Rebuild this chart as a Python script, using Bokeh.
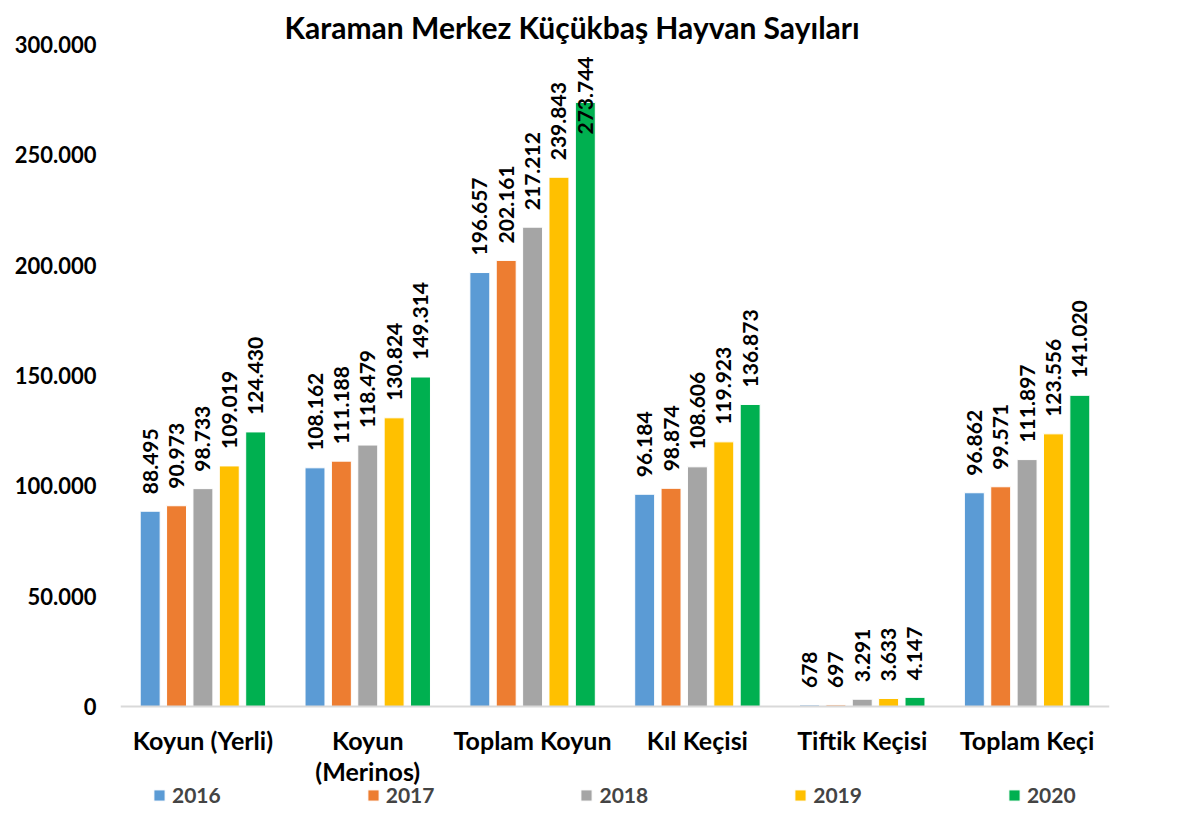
from bokeh.plotting import figure
from bokeh.models import ColumnDataSource, FactorRange, FixedTicker, Legend, LegendItem
from bokeh.transform import dodge
from bokeh.core.properties import value
from bokeh.embed import file_html
from bokeh.resources import INLINE
import math

TITLE = "Karaman Merkez Küçükbaş  Hayvan Sayıları"
CATEGORIES = ["Koyun (Yerli)", "Koyun\n(Merinos)", "Toplam Koyun", "Kıl Keçisi", "Tiftik Keçisi", "Toplam Keçi"]
YEARS = ["2016", "2017", "2018", "2019", "2020"]
V2016 = [88495, 108162, 196657, 96184, 678, 96862]
V2017 = [90973, 111188, 202161, 98874, 697, 99571]
V2018 = [98733, 118479, 217212, 108606, 3291, 111897]
V2019 = [109019, 130824, 239843, 119923, 3633, 123556]
V2020 = [124430, 149314, 273744, 136873, 4147, 141020]
SERIES = [V2016, V2017, V2018, V2019, V2020]
COLORS = ["#5B9BD5", "#ED7D31", "#A5A5A5", "#FFC000", "#00B050"]
Y_TICKS = [0, 50000, 100000, 150000, 200000, 250000, 300000]
Y_TICK_LABELS = ["0", "50.000", "100.000", "150.000", "200.000", "250.000", "300.000"]
LABEL_CAP = 251500  # Excel pushes labels inside the plot when they would overflow

# layout: value axis occupies 662px; 104px extra below zero hold category labels + legend
PLOT_PX = 662
BELOW_PX = 104
Y_MAX = 300000
Y_MIN = -BELOW_PX / PLOT_PX * Y_MAX


def fmt(v):
    return f"{v:,}".replace(",", ".")


FONT = "Lato"

p = figure(
    x_range=FactorRange(*CATEGORIES, range_padding=0),
    y_range=(Y_MIN, Y_MAX),
    frame_width=989, frame_height=PLOT_PX + BELOW_PX,
    output_backend="svg", toolbar_location=None,
    min_border_left=120, min_border_right=86, min_border_top=44, min_border_bottom=2,
)
p.title.text = TITLE
p.title.text_font = FONT
p.title.text_font_size = "30px"
p.title.text_font_style = "bold"
p.title.text_color = "black"
p.title.align = "left"
p.title.offset = 164
p.title.standoff = 0

offsets = [-0.32, -0.16, 0.0, 0.16, 0.32]
items = []
for yr, vals, col, off in zip(YEARS, SERIES, COLORS, offsets):
    src = ColumnDataSource(dict(
        cat=CATEGORIES, val=vals,
        lab=[fmt(v) for v in vals],
        ly=[min(v, LABEL_CAP) for v in vals],
    ))
    r = p.vbar(x=dodge("cat", off, range=p.x_range), top="val", bottom=0, width=0.121, source=src,
               fill_color=col, line_color="white", line_width=1)
    p.text(x=dodge("cat", off, range=p.x_range), y="ly", text="lab", source=src,
           angle=math.pi / 2, text_align="left", text_baseline="middle",
           x_offset=0, y_offset=-17,
           text_font=value(FONT), text_font_size="21px", text_font_style="bold",
           text_color="black")
    items.append(LegendItem(label=yr, renderers=[r]))

legend = Legend(items=items, orientation="horizontal", location=(32, 3),
                glyph_width=14, glyph_height=14, label_standoff=6, spacing=145,
                label_text_font=FONT, label_text_font_size="21px", label_text_font_style="bold",
                border_line_color=None, background_fill_alpha=0, padding=2, margin=0)
p.add_layout(legend, "center")

p.xgrid.grid_line_color = None
p.ygrid.grid_line_color = None
p.outline_line_color = None

p.yaxis.ticker = FixedTicker(ticks=Y_TICKS)
p.yaxis.major_label_overrides = {t: l for t, l in zip(Y_TICKS, Y_TICK_LABELS)}
p.yaxis.axis_line_color = None
p.yaxis.major_tick_line_color = None
p.yaxis.minor_tick_line_color = None
p.yaxis.major_label_standoff = 18
p.yaxis.major_label_text_font = FONT
p.yaxis.major_label_text_font_size = "22px"
p.yaxis.major_label_text_font_style = "bold"
p.yaxis.major_label_text_color = "black"

p.xaxis.fixed_location = 0
p.xaxis.axis_line_color = "#D9D9D9"
p.xaxis.axis_line_width = 2
p.xaxis.major_tick_line_color = None
p.xaxis.minor_tick_line_color = None
p.xaxis.major_label_standoff = 12
p.xaxis.major_label_text_font = FONT
p.xaxis.major_label_text_font_size = "25px"
p.xaxis.major_label_text_font_style = "bold"
p.xaxis.major_label_text_color = "black"
p.xaxis.major_label_text_line_height = 1.05

open("out.html", "w").write(file_html(p, INLINE))
